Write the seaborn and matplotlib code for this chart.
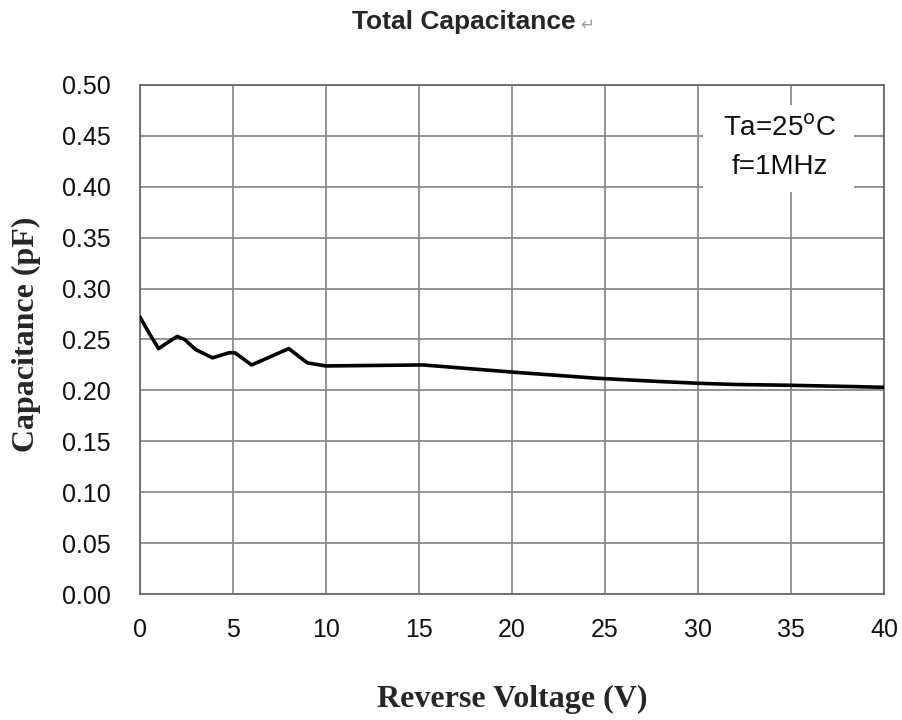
import numpy as np
import pandas as pd
import matplotlib.pyplot as plt
import matplotlib.patches as mpatches
import seaborn as sns

# ── data ─────────────────────────────────────────────────────────────────────
voltage = [0, 0.5, 1.0, 1.4, 2.0, 2.4, 3.0, 3.9, 4.8, 5.1, 6.0, 7.0, 8.0,
           9.0, 10.0, 15.2, 20.0, 24.5, 27.6, 30.0, 32.0, 35.0, 38.7, 40.0]
capacitance = [0.272, 0.256, 0.241, 0.246, 0.253, 0.250, 0.240, 0.232, 0.237,
               0.237, 0.225, 0.233, 0.241, 0.227, 0.224, 0.225, 0.218, 0.212,
               0.209, 0.207, 0.2058, 0.205, 0.2036, 0.203]
x_ticks = list(range(0, 41, 5))
y_ticks = [round(0.05 * i, 2) for i in range(11)]

df = pd.DataFrame({"V": voltage, "C": capacitance})

sns.set_style("white")
plt.rcParams["font.family"] = ["Liberation Sans", "DejaVu Sans"]

fig = plt.figure(figsize=(9.03, 7.2), dpi=100)
ax = fig.add_axes([0.155, 0.175, 0.824, 0.707])

sns.lineplot(data=df, x="V", y="C", ax=ax, color="black", linewidth=2.6,
             zorder=3)
ax.lines[0].set_solid_joinstyle("round")
ax.lines[0].set_solid_capstyle("round")

ax.set_xlim(0, 40)
ax.set_ylim(0, 0.5)
ax.set_xticks(x_ticks)
ax.set_yticks(y_ticks)
ax.set_yticklabels([f"{v:.2f}" for v in y_ticks])
ax.grid(True, color="#8a8a8a", linewidth=1.3)
ax.set_axisbelow(True)
for s in ax.spines.values():
    s.set_color("#6a6a6a")
    s.set_linewidth(1.3)
ax.tick_params(axis="y", direction="out", length=7, width=1.2, color="#6a6a6a",
               labelsize=18, pad=14, labelcolor="#111111")
ax.tick_params(axis="x", length=0, labelsize=18, pad=17, labelcolor="#111111")

ax.set_xlabel("Reverse Voltage (V)", family="Liberation Serif", fontweight="bold",
              fontsize=23)
ax.set_ylabel("Capacitance (pF)", family="Liberation Serif", fontweight="bold",
              fontsize=23)
ax.xaxis.set_label_coords(0.5, -0.178)
ax.yaxis.set_label_coords(-0.133, 0.51)

# condition box (white patch hiding the grid)
ax.add_patch(mpatches.Rectangle((0.757, 0.79), 0.203, 0.17, transform=ax.transAxes,
                                facecolor="white", edgecolor="none", zorder=2))
ax.text(0.86, 0.876, "Ta=25$^{\\mathrm{o}}$C\nf=1MHz", transform=ax.transAxes,
        ha="center", va="center", fontsize=20, linespacing=1.6, zorder=4,
        color="#111111")

fig.text(0.514, 0.969, "Total Capacitance", ha="center", va="center",
         fontsize=19, fontweight="bold")
fig.text(0.643, 0.966, "\u21b5", ha="left", va="center", fontsize=12,
         color="#9a9a9a", family="DejaVu Sans")

fig.savefig("out.png", dpi=100)
